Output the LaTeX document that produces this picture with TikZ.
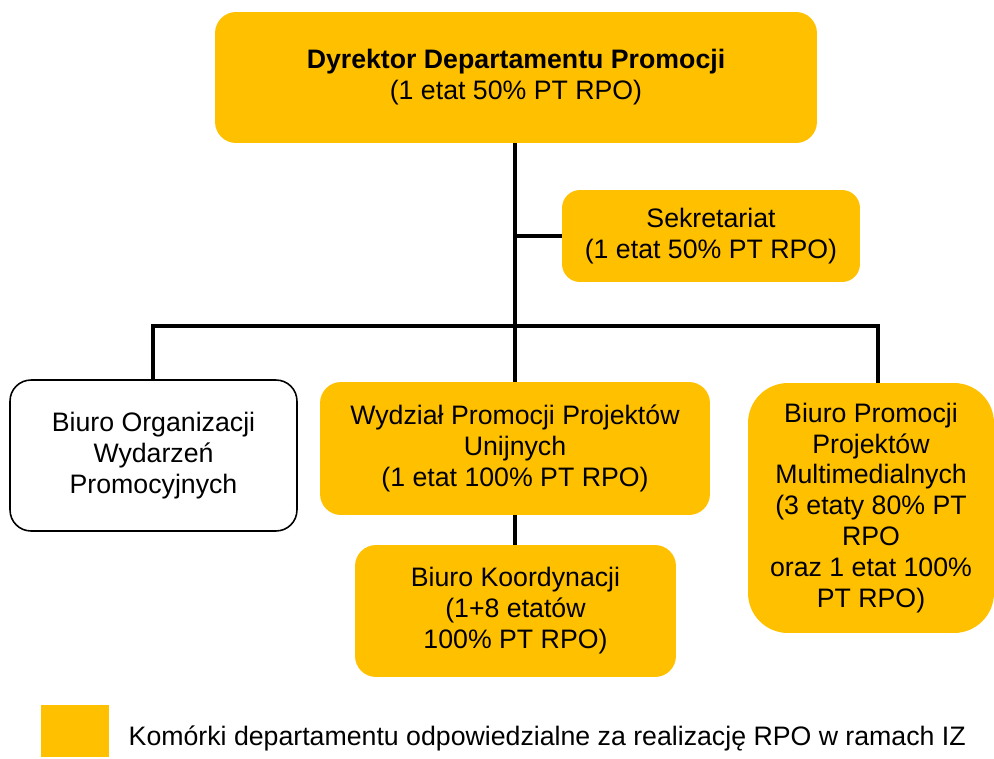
\documentclass[tikz,border=0pt]{standalone}
\usepackage{fontspec}
\setmainfont{Liberation Sans}
\usepackage{tikz}
\usetikzlibrary{positioning}
\definecolor{rpogold}{HTML}{FFC000}

\begin{document}
\begin{tikzpicture}[x=0.02cm, y=-0.02cm,
  every node/.style={font=\fontsize{15.2}{17.6}\selectfont, align=center},
  cell/.style={rectangle, rounded corners=0.42cm, fill=rpogold,
    inner sep=2pt, text centered},
  plain/.style={rectangle, rounded corners=0.42cm, draw=black,
    line width=0.9pt, fill=white, inner sep=2pt, text centered},
  link/.style={line width=2.3pt, black}]

\useasboundingbox (0,0) rectangle (994,758);

\node (dyrektor) [cell, minimum width=12.04cm, minimum height=2.62cm]
  at (516,77.5)
  {\textbf{Dyrektor Departamentu Promocji}\\(1 etat 50\% PT RPO)};

\node (sekretariat) [cell, rounded corners=0.36cm,
  minimum width=5.96cm, minimum height=1.84cm] at (711,236)
  {Sekretariat\\(1 etat 50\% PT RPO)};

\node (biuroorg) [plain, minimum width=5.74cm, minimum height=3.02cm]
  at (153.5,455.5)
  {Biuro Organizacji\\Wydarzeń\\Promocyjnych};

\node (wydzial) [cell, minimum width=7.8cm, minimum height=2.66cm]
  at (515,448.5)
  {Wydział Promocji Projektów\\Unijnych\\(1 etat 100\% PT RPO)};

\node (koord) [cell, minimum width=6.42cm, minimum height=2.64cm]
  at (515.5,611)
  {Biuro Koordynacji\\(1+8 etatów\\100\% PT RPO)};

\node (multimedia) [cell, rounded corners=0.8cm,
  minimum width=4.92cm, minimum height=5.0cm] at (871,508)
  {Biuro Promocji\\Projektów\\Multimedialnych\\(3 etaty 80\% PT\\RPO\\oraz 1 etat 100\%\\PT RPO)};

% legenda
\node (legbox) [rectangle, fill=rpogold, minimum width=1.36cm,
  minimum height=1.04cm, inner sep=0pt] at (75,731) {};
\node (legtext) [right=0.38cm of legbox, inner sep=0pt, yshift=-0.14cm]
  {Komórki departamentu odpowiedzialne za realizację RPO w ramach IZ};

\coordinate (trunk) at (515,143);
\coordinate (busL) at (153,326);
\coordinate (busR) at (878,326);

\draw [link] (trunk) -- (trunk |- wydzial.north);
\draw [link] (sekretariat.west) -- (sekretariat.west -| trunk);
\draw [link] (busL |- biuroorg.north) -- (busL) -- (busR)
  -- (busR |- multimedia.north);
\draw [link] (trunk |- wydzial.south) -- (trunk |- koord.north);

\end{tikzpicture}
\end{document}
